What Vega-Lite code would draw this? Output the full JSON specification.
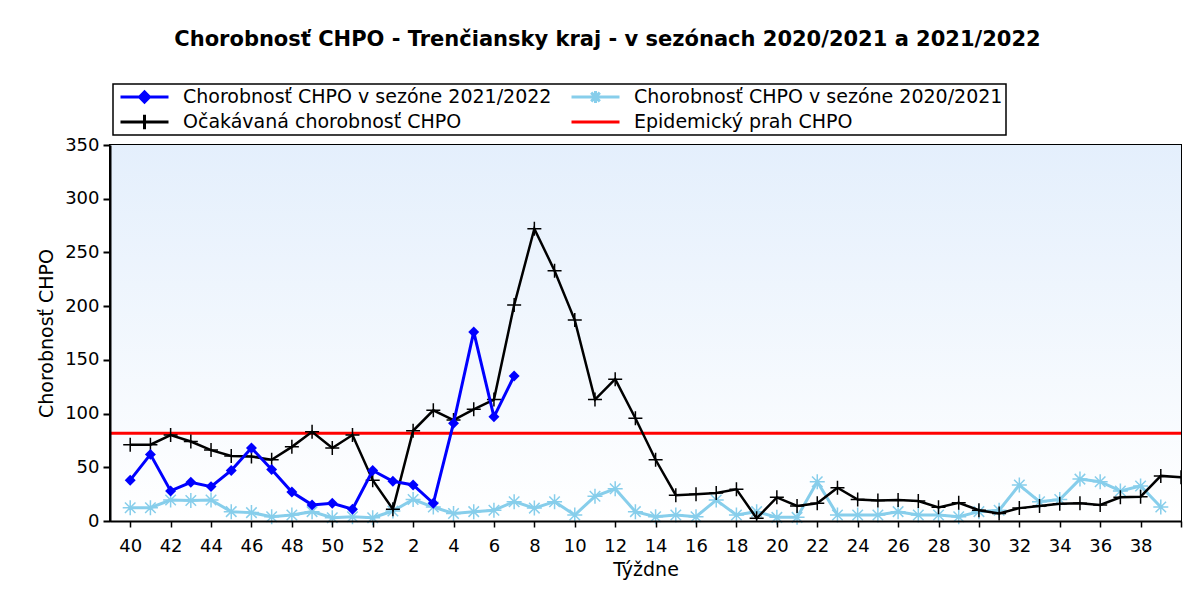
{
  "$schema": "https://vega.github.io/schema/vega-lite/v6.json",
  "width": 1071,
  "height": 376,
  "autosize": "none",
  "padding": {"left": 110, "top": 145, "right": 23, "bottom": 82},
  "background": "white",
  "config": {"font": "DejaVu Sans", "view": {"stroke": "black", "strokeWidth": 2}, "axis": {"labelOverlap": false}},
  "title": {
    "text": "Chorobnosť CHPO - Trenčiansky kraj - v sezónach 2020/2021 a 2021/2022",
    "font": "DejaVu Sans", "fontSize": 21, "fontWeight": "bold", "color": "black",
    "anchor": "middle", "dx": -38, "offset": 16, "baseline": "alphabetic", "frame": "group"
  },
  "datasets": {
    "d": [
      {"s": "Epidemický prah CHPO", "v": 81.6},
      {"i": 0, "s": "Chorobnosť CHPO v sezóne 2021/2022", "v": 38},
      {"i": 1, "s": "Chorobnosť CHPO v sezóne 2021/2022", "v": 62},
      {"i": 2, "s": "Chorobnosť CHPO v sezóne 2021/2022", "v": 28},
      {"i": 3, "s": "Chorobnosť CHPO v sezóne 2021/2022", "v": 36},
      {"i": 4, "s": "Chorobnosť CHPO v sezóne 2021/2022", "v": 32},
      {"i": 5, "s": "Chorobnosť CHPO v sezóne 2021/2022", "v": 47},
      {"i": 6, "s": "Chorobnosť CHPO v sezóne 2021/2022", "v": 68},
      {"i": 7, "s": "Chorobnosť CHPO v sezóne 2021/2022", "v": 48},
      {"i": 8, "s": "Chorobnosť CHPO v sezóne 2021/2022", "v": 27},
      {"i": 9, "s": "Chorobnosť CHPO v sezóne 2021/2022", "v": 15},
      {"i": 10, "s": "Chorobnosť CHPO v sezóne 2021/2022", "v": 16.5},
      {"i": 11, "s": "Chorobnosť CHPO v sezóne 2021/2022", "v": 11},
      {"i": 12, "s": "Chorobnosť CHPO v sezóne 2021/2022", "v": 47},
      {"i": 13, "s": "Chorobnosť CHPO v sezóne 2021/2022", "v": 37},
      {"i": 14, "s": "Chorobnosť CHPO v sezóne 2021/2022", "v": 33.5},
      {"i": 15, "s": "Chorobnosť CHPO v sezóne 2021/2022", "v": 16.5},
      {"i": 16, "s": "Chorobnosť CHPO v sezóne 2021/2022", "v": 91},
      {"i": 17, "s": "Chorobnosť CHPO v sezóne 2021/2022", "v": 176},
      {"i": 18, "s": "Chorobnosť CHPO v sezóne 2021/2022", "v": 97},
      {"i": 19, "s": "Chorobnosť CHPO v sezóne 2021/2022", "v": 135},
      {"i": 0, "s": "Očakávaná chorobnosť CHPO", "v": 71},
      {"i": 1, "s": "Očakávaná chorobnosť CHPO", "v": 71},
      {"i": 2, "s": "Očakávaná chorobnosť CHPO", "v": 80},
      {"i": 3, "s": "Očakávaná chorobnosť CHPO", "v": 74},
      {"i": 4, "s": "Očakávaná chorobnosť CHPO", "v": 66},
      {"i": 5, "s": "Očakávaná chorobnosť CHPO", "v": 60.5},
      {"i": 6, "s": "Očakávaná chorobnosť CHPO", "v": 60},
      {"i": 7, "s": "Očakávaná chorobnosť CHPO", "v": 57},
      {"i": 8, "s": "Očakávaná chorobnosť CHPO", "v": 69},
      {"i": 9, "s": "Očakávaná chorobnosť CHPO", "v": 83},
      {"i": 10, "s": "Očakávaná chorobnosť CHPO", "v": 68},
      {"i": 11, "s": "Očakávaná chorobnosť CHPO", "v": 80},
      {"i": 12, "s": "Očakávaná chorobnosť CHPO", "v": 38},
      {"i": 13, "s": "Očakávaná chorobnosť CHPO", "v": 11},
      {"i": 14, "s": "Očakávaná chorobnosť CHPO", "v": 84},
      {"i": 15, "s": "Očakávaná chorobnosť CHPO", "v": 103},
      {"i": 16, "s": "Očakávaná chorobnosť CHPO", "v": 94},
      {"i": 17, "s": "Očakávaná chorobnosť CHPO", "v": 104},
      {"i": 18, "s": "Očakávaná chorobnosť CHPO", "v": 113},
      {"i": 19, "s": "Očakávaná chorobnosť CHPO", "v": 201},
      {"i": 20, "s": "Očakávaná chorobnosť CHPO", "v": 272},
      {"i": 21, "s": "Očakávaná chorobnosť CHPO", "v": 233},
      {"i": 22, "s": "Očakávaná chorobnosť CHPO", "v": 187},
      {"i": 23, "s": "Očakávaná chorobnosť CHPO", "v": 113},
      {"i": 24, "s": "Očakávaná chorobnosť CHPO", "v": 132},
      {"i": 25, "s": "Očakávaná chorobnosť CHPO", "v": 95.6},
      {"i": 26, "s": "Očakávaná chorobnosť CHPO", "v": 57},
      {"i": 27, "s": "Očakávaná chorobnosť CHPO", "v": 24},
      {"i": 28, "s": "Očakávaná chorobnosť CHPO", "v": 25},
      {"i": 29, "s": "Očakávaná chorobnosť CHPO", "v": 26},
      {"i": 30, "s": "Očakávaná chorobnosť CHPO", "v": 29.5},
      {"i": 31, "s": "Očakávaná chorobnosť CHPO", "v": 2.5},
      {"i": 32, "s": "Očakávaná chorobnosť CHPO", "v": 22},
      {"i": 33, "s": "Očakávaná chorobnosť CHPO", "v": 14},
      {"i": 34, "s": "Očakávaná chorobnosť CHPO", "v": 16.5},
      {"i": 35, "s": "Očakávaná chorobnosť CHPO", "v": 31},
      {"i": 36, "s": "Očakávaná chorobnosť CHPO", "v": 20},
      {"i": 37, "s": "Očakávaná chorobnosť CHPO", "v": 19},
      {"i": 38, "s": "Očakávaná chorobnosť CHPO", "v": 19.5},
      {"i": 39, "s": "Očakávaná chorobnosť CHPO", "v": 18.6},
      {"i": 40, "s": "Očakávaná chorobnosť CHPO", "v": 12.7},
      {"i": 41, "s": "Očakávaná chorobnosť CHPO", "v": 17},
      {"i": 42, "s": "Očakávaná chorobnosť CHPO", "v": 10},
      {"i": 43, "s": "Očakávaná chorobnosť CHPO", "v": 7},
      {"i": 44, "s": "Očakávaná chorobnosť CHPO", "v": 12},
      {"i": 45, "s": "Očakávaná chorobnosť CHPO", "v": 14},
      {"i": 46, "s": "Očakávaná chorobnosť CHPO", "v": 16},
      {"i": 47, "s": "Očakávaná chorobnosť CHPO", "v": 16.5},
      {"i": 48, "s": "Očakávaná chorobnosť CHPO", "v": 15},
      {"i": 49, "s": "Očakávaná chorobnosť CHPO", "v": 22},
      {"i": 50, "s": "Očakávaná chorobnosť CHPO", "v": 22.6},
      {"i": 51, "s": "Očakávaná chorobnosť CHPO", "v": 42},
      {"i": 52, "s": "Očakávaná chorobnosť CHPO", "v": 40.7},
      {"i": 0, "s": "Chorobnosť CHPO v sezóne 2020/2021", "v": 12.4},
      {"i": 1, "s": "Chorobnosť CHPO v sezóne 2020/2021", "v": 12.4},
      {"i": 2, "s": "Chorobnosť CHPO v sezóne 2020/2021", "v": 19.5},
      {"i": 3, "s": "Chorobnosť CHPO v sezóne 2020/2021", "v": 19},
      {"i": 4, "s": "Chorobnosť CHPO v sezóne 2020/2021", "v": 19.5},
      {"i": 5, "s": "Chorobnosť CHPO v sezóne 2020/2021", "v": 8.7},
      {"i": 6, "s": "Chorobnosť CHPO v sezóne 2020/2021", "v": 7.8},
      {"i": 7, "s": "Chorobnosť CHPO v sezóne 2020/2021", "v": 4},
      {"i": 8, "s": "Chorobnosť CHPO v sezóne 2020/2021", "v": 5.6},
      {"i": 9, "s": "Chorobnosť CHPO v sezóne 2020/2021", "v": 8.7},
      {"i": 10, "s": "Chorobnosť CHPO v sezóne 2020/2021", "v": 3},
      {"i": 11, "s": "Chorobnosť CHPO v sezóne 2020/2021", "v": 4},
      {"i": 12, "s": "Chorobnosť CHPO v sezóne 2020/2021", "v": 3},
      {"i": 13, "s": "Chorobnosť CHPO v sezóne 2020/2021", "v": 9.3},
      {"i": 14, "s": "Chorobnosť CHPO v sezóne 2020/2021", "v": 20},
      {"i": 15, "s": "Chorobnosť CHPO v sezóne 2020/2021", "v": 13},
      {"i": 16, "s": "Chorobnosť CHPO v sezóne 2020/2021", "v": 7},
      {"i": 17, "s": "Chorobnosť CHPO v sezóne 2020/2021", "v": 8.7},
      {"i": 18, "s": "Chorobnosť CHPO v sezóne 2020/2021", "v": 10},
      {"i": 19, "s": "Chorobnosť CHPO v sezóne 2020/2021", "v": 18},
      {"i": 20, "s": "Chorobnosť CHPO v sezóne 2020/2021", "v": 12},
      {"i": 21, "s": "Chorobnosť CHPO v sezóne 2020/2021", "v": 18},
      {"i": 22, "s": "Chorobnosť CHPO v sezóne 2020/2021", "v": 5.6},
      {"i": 23, "s": "Chorobnosť CHPO v sezóne 2020/2021", "v": 23},
      {"i": 24, "s": "Chorobnosť CHPO v sezóne 2020/2021", "v": 30},
      {"i": 25, "s": "Chorobnosť CHPO v sezóne 2020/2021", "v": 8.7},
      {"i": 26, "s": "Chorobnosť CHPO v sezóne 2020/2021", "v": 4},
      {"i": 27, "s": "Chorobnosť CHPO v sezóne 2020/2021", "v": 5.6},
      {"i": 28, "s": "Chorobnosť CHPO v sezóne 2020/2021", "v": 4},
      {"i": 29, "s": "Chorobnosť CHPO v sezóne 2020/2021", "v": 19.5},
      {"i": 30, "s": "Chorobnosť CHPO v sezóne 2020/2021", "v": 5.6},
      {"i": 31, "s": "Chorobnosť CHPO v sezóne 2020/2021", "v": 8.7},
      {"i": 32, "s": "Chorobnosť CHPO v sezóne 2020/2021", "v": 3.4},
      {"i": 33, "s": "Chorobnosť CHPO v sezóne 2020/2021", "v": 3.4},
      {"i": 34, "s": "Chorobnosť CHPO v sezóne 2020/2021", "v": 36.6},
      {"i": 35, "s": "Chorobnosť CHPO v sezóne 2020/2021", "v": 5.6},
      {"i": 36, "s": "Chorobnosť CHPO v sezóne 2020/2021", "v": 5.6},
      {"i": 37, "s": "Chorobnosť CHPO v sezóne 2020/2021", "v": 5.6},
      {"i": 38, "s": "Chorobnosť CHPO v sezóne 2020/2021", "v": 8.7},
      {"i": 39, "s": "Chorobnosť CHPO v sezóne 2020/2021", "v": 5.6},
      {"i": 40, "s": "Chorobnosť CHPO v sezóne 2020/2021", "v": 5.6},
      {"i": 41, "s": "Chorobnosť CHPO v sezóne 2020/2021", "v": 4},
      {"i": 42, "s": "Chorobnosť CHPO v sezóne 2020/2021", "v": 8.7},
      {"i": 43, "s": "Chorobnosť CHPO v sezóne 2020/2021", "v": 10},
      {"i": 44, "s": "Chorobnosť CHPO v sezóne 2020/2021", "v": 33.5},
      {"i": 45, "s": "Chorobnosť CHPO v sezóne 2020/2021", "v": 18},
      {"i": 46, "s": "Chorobnosť CHPO v sezóne 2020/2021", "v": 20},
      {"i": 47, "s": "Chorobnosť CHPO v sezóne 2020/2021", "v": 39},
      {"i": 48, "s": "Chorobnosť CHPO v sezóne 2020/2021", "v": 36.6},
      {"i": 49, "s": "Chorobnosť CHPO v sezóne 2020/2021", "v": 28},
      {"i": 50, "s": "Chorobnosť CHPO v sezóne 2020/2021", "v": 32.6},
      {"i": 51, "s": "Chorobnosť CHPO v sezóne 2020/2021", "v": 13}
    ]
  },
  "layer": [
    {
      "data": {"values": [{}]},
      "mark": {"type": "rect", "fill": {"gradient": "linear", "x1": 0, "y1": 0, "x2": 0, "y2": 1, "stops": [{"offset": 0, "color": "#e4effc"}, {"offset": 1, "color": "#ffffff"}]}},
      "encoding": {
        "x": {"datum": -1, "type": "quantitative",
              "scale": {"domain": [-1, 52], "nice": false, "zero": false},
              "axis": {"orient": "bottom", "values": [0,1,2,3,4,5,6,7,8,9,10,11,12,13,14,15,16,17,18,19,20,21,22,23,24,25,26,27,28,29,30,31,32,33,34,35,36,37,38,39,40,41,42,43,44,45,46,47,48,49,50,51,52],
                       "labelExpr": "datum.value % 2 === 0 && datum.value < 52 ? (datum.value < 13 ? '' + (40 + datum.value) : '' + (datum.value - 12)) : ''",
                       "labelOverlap": false, "labelFlush": false, "labelFontSize": 18, "labelColor": "black", "labelPadding": 10, "zindex": 1,
                       "grid": false, "domainColor": "black", "domainWidth": 2, "tickColor": "black", "tickWidth": 1.5, "tickSize": 6,
                       "title": "Týždne", "titleFontSize": 19, "titleFontWeight": "normal", "titleColor": "black", "titlePadding": 5}},
        "x2": {"datum": 52},
        "y": {"datum": 0, "type": "quantitative",
              "scale": {"domain": [0, 350], "nice": false, "zero": true},
              "axis": {"orient": "left", "values": [0,50,100,150,200,250,300,350],
                       "labelOverlap": false, "labelFontSize": 18, "labelColor": "black", "labelPadding": 4, "zindex": 1,
                       "grid": false, "domainColor": "black", "domainWidth": 2, "tickColor": "black", "tickWidth": 2, "tickSize": 7,
                       "title": "Chorobnosť CHPO", "titleFontSize": 19, "titleFontWeight": "normal", "titleColor": "black", "titlePadding": 8}},
        "y2": {"datum": 350}
      }
    },
    {
      "data": {"name": "d"},
      "transform": [{"filter": "datum.s === 'Epidemický prah CHPO'"}],
      "mark": {"type": "rule", "strokeWidth": 3},
      "encoding": {
        "y": {"field": "v", "type": "quantitative"},
        "color": {"field": "s", "type": "nominal",
                  "scale": {"domain": ["Chorobnosť CHPO v sezóne 2021/2022", "Očakávaná chorobnosť CHPO", "Chorobnosť CHPO v sezóne 2020/2021", "Epidemický prah CHPO"],
                            "range": ["#0000ff", "#000000", "#87ceeb", "#ff0000"]},
                  "legend": {"orient": "none", "legendX": 3, "legendY": -61, "columns": 2, "title": null,
                             "strokeColor": "black", "fillColor": "white", "padding": 3,
                             "symbolSize": 2304, "clipHeight": 20, "symbolOffset": 3, "symbolStrokeWidth": 3,
                             "labelFont": "DejaVu Sans", "labelFontSize": 19, "labelColor": "black", "labelOffset": 13, "labelLimit": 0, "rowPadding": 5, "columnPadding": 15,
                             "encode": {
                               "legend": {"update": {"strokeWidth": {"value": 1.5}}},
                               "symbols": {"update": {
                                 "shape": {"signal": "datum.index === 0 ? 'M-1,0H1M-0.21,0L0,-0.21L0.21,0L0,0.21Z' : datum.index === 2 ? 'M-1,0H1M-0.25,0H0.25M0,-0.25V0.25M-0.18,-0.18L0.18,0.18M-0.18,0.18L0.18,-0.18' : datum.index === 1 ? 'M-1,0H1M0,-0.3V0.3' : 'M-1,0H1'"},
                                 "fill": {"signal": "datum.index === 0 ? '#0000ff' : 'transparent'"},
                                 "stroke": {"signal": "scale('color', datum.value)"},
                                 "strokeWidth": {"value": 3},
                                 "opacity": {"value": 1}
                               }}
                             }}}
      }
    },
    {
      "data": {"name": "d"},
      "transform": [{"filter": "datum.s === 'Chorobnosť CHPO v sezóne 2020/2021'"}],
      "mark": {"type": "line", "strokeWidth": 3},
      "encoding": {
        "x": {"field": "i", "type": "quantitative"},
        "y": {"field": "v", "type": "quantitative"},
        "color": {"field": "s", "type": "nominal"}
      }
    },
    {
      "data": {"name": "d"},
      "transform": [{"filter": "datum.s === 'Chorobnosť CHPO v sezóne 2020/2021'"}],
      "mark": {"type": "point", "shape": "M-1,0H1M0,-1V1M-0.7,-0.7L0.7,0.7M-0.7,0.7L0.7,-0.7", "filled": false, "color": "#87ceeb", "size": 225, "strokeWidth": 1.5, "opacity": 1},
      "encoding": {
        "x": {"field": "i", "type": "quantitative"},
        "y": {"field": "v", "type": "quantitative"}
      }
    },
    {
      "data": {"name": "d"},
      "transform": [{"filter": "datum.s === 'Očakávaná chorobnosť CHPO'"}],
      "mark": {"type": "line", "strokeWidth": 2.5, "clip": true},
      "encoding": {
        "x": {"field": "i", "type": "quantitative"},
        "y": {"field": "v", "type": "quantitative"},
        "color": {"field": "s", "type": "nominal"}
      }
    },
    {
      "data": {"name": "d"},
      "transform": [{"filter": "datum.s === 'Očakávaná chorobnosť CHPO'"}],
      "mark": {"type": "point", "shape": "M-1,0H1M0,-1V1", "filled": false, "color": "black", "size": 196, "strokeWidth": 1.5, "opacity": 1, "clip": true},
      "encoding": {
        "x": {"field": "i", "type": "quantitative"},
        "y": {"field": "v", "type": "quantitative"}
      }
    },
    {
      "data": {"name": "d"},
      "transform": [{"filter": "datum.s === 'Chorobnosť CHPO v sezóne 2021/2022'"}],
      "mark": {"type": "line", "strokeWidth": 3},
      "encoding": {
        "x": {"field": "i", "type": "quantitative"},
        "y": {"field": "v", "type": "quantitative"},
        "color": {"field": "s", "type": "nominal"}
      }
    },
    {
      "data": {"name": "d"},
      "transform": [{"filter": "datum.s === 'Chorobnosť CHPO v sezóne 2021/2022'"}],
      "mark": {"type": "point", "shape": "diamond", "filled": true, "color": "#0000ff", "size": 120, "opacity": 1},
      "encoding": {
        "x": {"field": "i", "type": "quantitative"},
        "y": {"field": "v", "type": "quantitative"}
      }
    }
  ]
}
